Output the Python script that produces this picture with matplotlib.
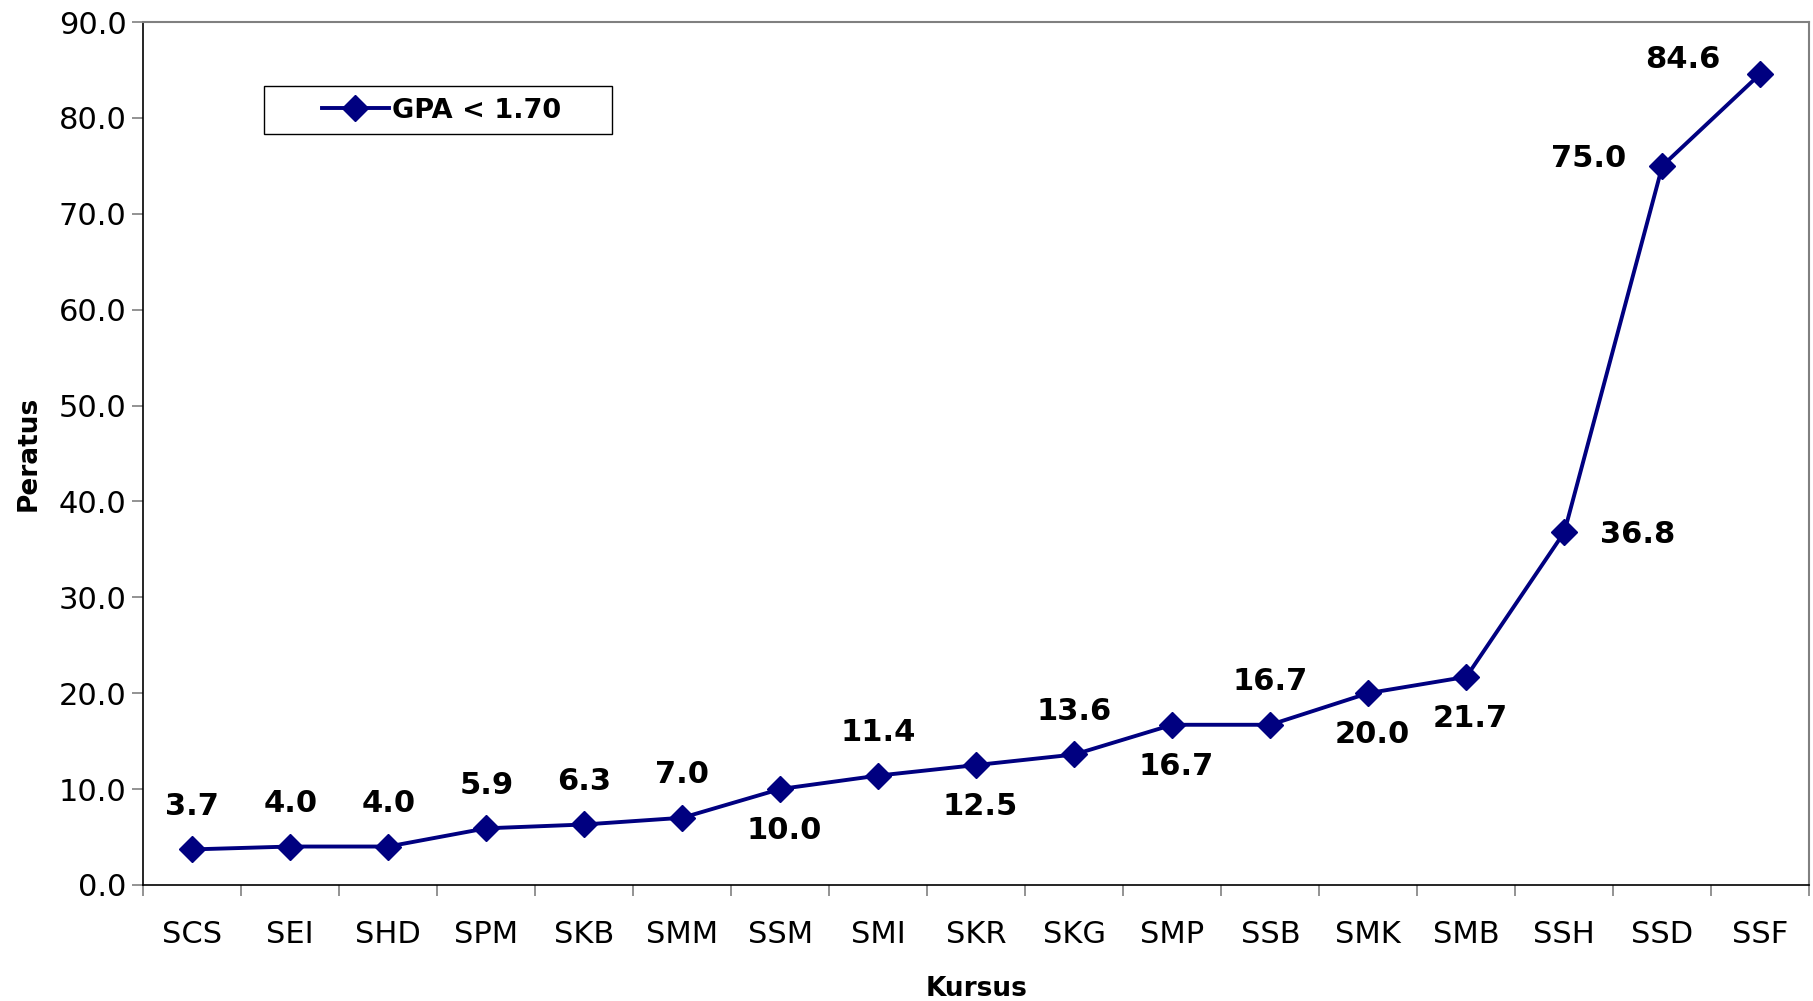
import matplotlib.pyplot as plt
from matplotlib.patches import Rectangle

kursus = ["SCS", "SEI", "SHD", "SPM", "SKB", "SMM", "SSM", "SMI", "SKR",
          "SKG", "SMP", "SSB", "SMK", "SMB", "SSH", "SSD", "SSF"]
peratus = [3.7, 4.0, 4.0, 5.9, 6.3, 7.0, 10.0, 11.4, 12.5,
           13.6, 16.7, 16.7, 20.0, 21.7, 36.8, 75.0, 84.6]
# where each value label sits relative to its point
label_pos = ["up", "up", "up", "up", "up", "up", "down", "up", "down",
             "up", "down", "up", "down", "down", "right", "left", "upleft"]

offsets = {"up": (0, 31), "down": (3, -30), "right": (53, -2),
           "left": (-53, 5), "upleft": (-56, 10)}

plt.rcParams['font.family'] = ['DejaVu Sans']

fig = plt.figure(figsize=(18.13, 10.01), dpi=100)
ax = fig.add_axes([0.079, 0.116, 0.919, 0.862])

x = list(range(len(kursus)))
ax.plot(x, peratus, color="#000080", lw=2.8, marker="D", ms=13.5,
        label="GPA < 1.70")

for xi, v, p in zip(x, peratus, label_pos):
    ax.annotate(f"{v:.1f}", (xi, v), xytext=offsets[p], textcoords="offset points",
                ha="center", va="center", fontsize=22, fontweight="bold")

ax.set_xlim(-0.5, len(kursus) - 0.5)
ax.set_ylim(0, 90)
ax.set_yticks(range(0, 91, 10))
ax.set_yticklabels([f"{t:.1f}" for t in range(0, 91, 10)], fontsize=22)
ax.set_xticks(x)
ax.set_xticklabels(kursus, fontsize=22)
ax.set_xticks([i - 0.5 for i in range(len(kursus) + 1)], minor=True)
ax.tick_params(axis="x", which="major", length=0, pad=25)
ax.tick_params(axis="x", which="minor", length=8, width=1.2, color="#808080")
ax.tick_params(axis="y", length=8, width=1.2, color="#808080", pad=4)

for s in ["top", "right"]:
    ax.spines[s].set_color("#808080")
    ax.spines[s].set_linewidth(1.5)
for s in ["left", "bottom"]:
    ax.spines[s].set_color("black")
    ax.spines[s].set_linewidth(1.2)

ax.set_ylabel("Peratus", fontsize=19, fontweight="bold", labelpad=12)
ax.set_xlabel("Kursus", fontsize=19, fontweight="bold", labelpad=20)

# legend box drawn separately so it can be wider than its content
ax.add_patch(Rectangle((0.0726, 0.870), 0.209, 0.0556, transform=ax.transAxes,
                       facecolor="white", edgecolor="black", lw=1.0, zorder=4))
leg = ax.legend(loc="center left", bbox_to_anchor=(0.107, 0.897),
                prop={"weight": "bold", "size": 19.5}, frameon=False,
                handlelength=2.5, borderpad=0, handletextpad=0.1,
                borderaxespad=0)
leg.set_zorder(5)

fig.savefig("out.png", dpi=100)
